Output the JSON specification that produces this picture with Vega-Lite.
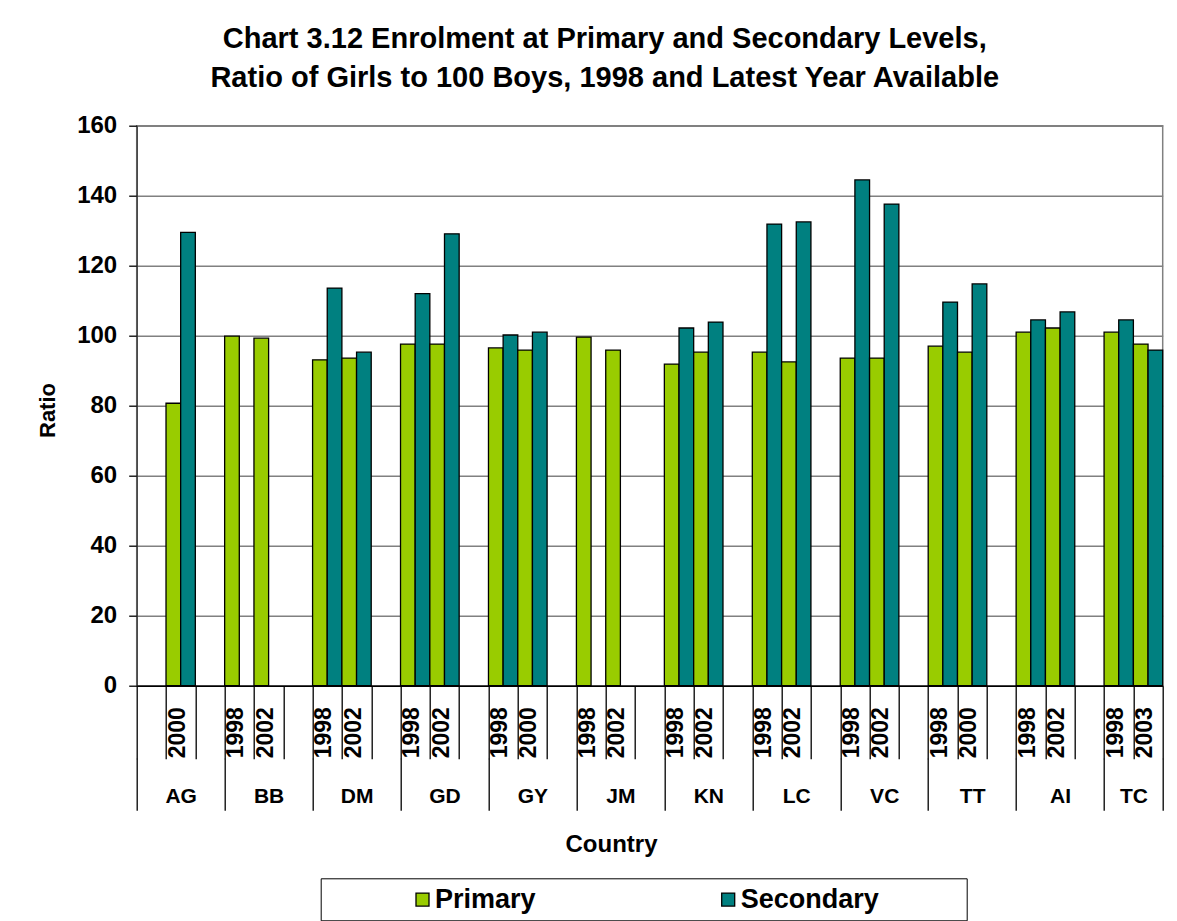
{
  "$schema": "https://vega.github.io/schema/vega-lite/v6.json",
  "width": 1026,
  "height": 560,
  "autosize": {"type": "none"},
  "padding": {"left": 136.7, "top": 125.7, "right": 14.3, "bottom": 235.3},
  "background": "white",
  "title": {
    "text": ["Chart 3.12 Enrolment at Primary and Secondary Levels,", "Ratio of Girls to 100 Boys, 1998 and Latest Year Available"],
    "fontSize": 29,
    "fontWeight": "bold",
    "lineHeight": 39,
    "anchor": "middle",
    "frame": "bounds",
    "offset": 21,
    "dx": 5,
    "color": "black"
  },
  "config": {
    "font": "Liberation Sans",
    "view": {"stroke": "#808080", "strokeWidth": 1.5},
    "axis": {"labelColor": "black", "titleColor": "black", "tickColor": "black", "domainColor": "black", "labelFontWeight": "bold", "titleFontWeight": "bold"}
  },
  "data": {
    "values": [
      {"slot": "AG|2|2000", "level": "Primary", "value": 80.7},
      {"slot": "AG|2|2000", "level": "Secondary", "value": 129.5},
      {"slot": "BB|1|1998", "level": "Primary", "value": 99.9},
      {"slot": "BB|2|2002", "level": "Primary", "value": 99.3},
      {"slot": "DM|1|1998", "level": "Primary", "value": 93.1},
      {"slot": "DM|1|1998", "level": "Secondary", "value": 113.6},
      {"slot": "DM|2|2002", "level": "Primary", "value": 93.6},
      {"slot": "DM|2|2002", "level": "Secondary", "value": 95.3},
      {"slot": "GD|1|1998", "level": "Primary", "value": 97.6},
      {"slot": "GD|1|1998", "level": "Secondary", "value": 112.0},
      {"slot": "GD|2|2002", "level": "Primary", "value": 97.6},
      {"slot": "GD|2|2002", "level": "Secondary", "value": 129.1},
      {"slot": "GY|1|1998", "level": "Primary", "value": 96.5},
      {"slot": "GY|1|1998", "level": "Secondary", "value": 100.2},
      {"slot": "GY|2|2000", "level": "Primary", "value": 95.9},
      {"slot": "GY|2|2000", "level": "Secondary", "value": 101.0},
      {"slot": "JM|1|1998", "level": "Primary", "value": 99.6},
      {"slot": "JM|2|2002", "level": "Primary", "value": 95.9},
      {"slot": "KN|1|1998", "level": "Primary", "value": 91.9},
      {"slot": "KN|1|1998", "level": "Secondary", "value": 102.2},
      {"slot": "KN|2|2002", "level": "Primary", "value": 95.3},
      {"slot": "KN|2|2002", "level": "Secondary", "value": 103.9},
      {"slot": "LC|1|1998", "level": "Primary", "value": 95.3},
      {"slot": "LC|1|1998", "level": "Secondary", "value": 131.9},
      {"slot": "LC|2|2002", "level": "Primary", "value": 92.5},
      {"slot": "LC|2|2002", "level": "Secondary", "value": 132.5},
      {"slot": "VC|1|1998", "level": "Primary", "value": 93.6},
      {"slot": "VC|1|1998", "level": "Secondary", "value": 144.5},
      {"slot": "VC|2|2002", "level": "Primary", "value": 93.6},
      {"slot": "VC|2|2002", "level": "Secondary", "value": 137.6},
      {"slot": "TT|1|1998", "level": "Primary", "value": 97.0},
      {"slot": "TT|1|1998", "level": "Secondary", "value": 109.6},
      {"slot": "TT|2|2000", "level": "Primary", "value": 95.3},
      {"slot": "TT|2|2000", "level": "Secondary", "value": 114.8},
      {"slot": "AI|1|1998", "level": "Primary", "value": 101.0},
      {"slot": "AI|1|1998", "level": "Secondary", "value": 104.5},
      {"slot": "AI|2|2002", "level": "Primary", "value": 102.2},
      {"slot": "AI|2|2002", "level": "Secondary", "value": 106.8},
      {"slot": "TC|1|1998", "level": "Primary", "value": 101.0},
      {"slot": "TC|1|1998", "level": "Secondary", "value": 104.5},
      {"slot": "TC|2|2003", "level": "Primary", "value": 97.6},
      {"slot": "TC|2|2003", "level": "Secondary", "value": 95.9}
    ]
  },
  "layer": [
    {
      "mark": {"type": "bar", "stroke": "black", "strokeWidth": 1.3},
      "encoding": {
        "x": {
          "field": "slot", "type": "nominal", "sort": null,
          "scale": {
            "domain": ["AG|1|", "AG|2|2000", "AG|3|", "BB|1|1998", "BB|2|2002", "BB|3|", "DM|1|1998", "DM|2|2002", "DM|3|", "GD|1|1998", "GD|2|2002", "GD|3|", "GY|1|1998", "GY|2|2000", "GY|3|", "JM|1|1998", "JM|2|2002", "JM|3|", "KN|1|1998", "KN|2|2002", "KN|3|", "LC|1|1998", "LC|2|2002", "LC|3|", "VC|1|1998", "VC|2|2002", "VC|3|", "TT|1|1998", "TT|2|2000", "TT|3|", "AI|1|1998", "AI|2|2002", "AI|3|", "TC|1|1998", "TC|2|2003"],
            "paddingInner": 0, "paddingOuter": 0
          },
          "axis": {
            "orient": "bottom", "title": null,
            "labelExpr": "split(datum.value,'|')[2]",
            "labelAngle": -90, "labelFontSize": 23, "labelBaseline": "middle", "labelAlign": "right",
            "labelOffset": -3.5, "labelPadding": -52,
            "tickBand": "extent", "tickSize": 73, "tickWidth": 1.3, "domainWidth": 1.5, "zindex": 1
          }
        },
        "xOffset": {"field": "level", "type": "nominal", "scale": {"domain": ["Primary", "Secondary"], "paddingInner": 0, "paddingOuter": 0}},
        "y": {
          "field": "value", "type": "quantitative",
          "scale": {"domain": [0, 160], "nice": false},
          "axis": {
            "values": [0, 20, 40, 60, 80, 100, 120, 140, 160],
            "title": "Ratio", "titleFontSize": 22, "labelFontSize": 24,
            "tickSize": 8, "labelPadding": 12, "tickWidth": 1.3,
            "gridColor": "#808080", "gridWidth": 1.5, "domainColor": "#333333", "domainWidth": 1.3,
            "titleAngle": -90, "titleX": -82.5, "titleY": 284.3, "titleAlign": "center", "titleBaseline": "alphabetic"
          }
        },
        "color": {
          "field": "level", "type": "nominal",
          "scale": {"domain": ["Primary", "Secondary"], "range": ["#99CC00", "#008080"]},
          "legend": {
            "orient": "none", "legendX": 184, "legendY": 752.6, "direction": "horizontal", "title": null,
            "strokeColor": "black", "fillColor": "white", "padding": 7.5,
            "symbolType": "square", "symbolSize": 169, "symbolStrokeColor": "black", "symbolStrokeWidth": 1.3,
            "symbolOffset": 80.8, "labelOffset": -1, "labelFontSize": 27, "labelFontWeight": "bold", "labelColor": "black",
            "columnPadding": 97.7, "labelLimit": 500,
            "labelExpr": "datum.label == 'Secondary' ? 'Secondary\u2800\u2800\u2800\u2800' : datum.label"
          }
        }
      }
    },
    {
      "mark": {"type": "bar", "opacity": 0},
      "encoding": {
        "x": {
          "field": "slot", "type": "nominal", "sort": null,
          "scale": {
            "domain": ["AG|1|", "AG|2|2000", "AG|3|", "BB|1|1998", "BB|2|2002", "BB|3|", "DM|1|1998", "DM|2|2002", "DM|3|", "GD|1|1998", "GD|2|2002", "GD|3|", "GY|1|1998", "GY|2|2000", "GY|3|", "JM|1|1998", "JM|2|2002", "JM|3|", "KN|1|1998", "KN|2|2002", "KN|3|", "LC|1|1998", "LC|2|2002", "LC|3|", "VC|1|1998", "VC|2|2002", "VC|3|", "TT|1|1998", "TT|2|2000", "TT|3|", "AI|1|1998", "AI|2|2002", "AI|3|", "TC|1|1998", "TC|2|2003"],
            "paddingInner": 0, "paddingOuter": 0
          },
          "axis": {
            "orient": "bottom", "offset": 72.6, "domain": false,
            "labelExpr": "(split(datum.value,'|')[1] == '2' && split(datum.value,'|')[0] != 'TC') || datum.value == 'TC|1|1998' ? split(datum.value,'|')[0] : ''",
            "labelAngle": 0, "labelFontSize": 21, "labelBaseline": "top", "labelAlign": "center", "labelPadding": -25,
            "labelOffset": {"condition": {"test": "datum.value == 'TC|1|1998'", "value": 14.65}, "value": 0},
            "tickBand": "extent", "tickSize": 52, "tickWidth": 1.3,
            "tickOpacity": {"condition": {"test": "!isValid(datum.value) || split(datum.value,'|')[1] == '3' || datum.value == 'TC|2|2003'", "value": 1}, "value": 0},
            "title": "Country", "titleFontSize": 24, "titleX": 474.3, "titleY": 93, "titleAlign": "center", "titleBaseline": "alphabetic"
          }
        }
      }
    }
  ],
  "resolve": {"axis": {"x": "independent"}}
}
